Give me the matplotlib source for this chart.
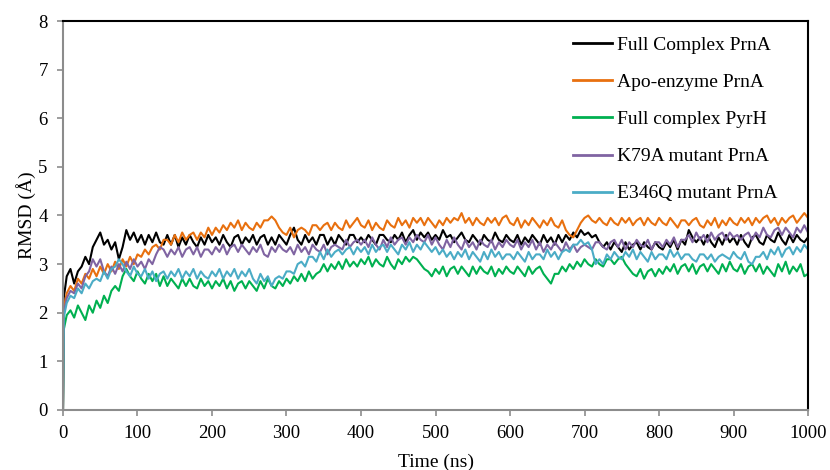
import matplotlib
matplotlib.use('Agg')
import matplotlib.pyplot as plt
import numpy as np

# time axis: t=0, t=1, then every 5 ns up to 1000
time_ns = np.concatenate(([0, 1], np.arange(5, 1001, 5)))

full_complex_prna = [0, 2.3,
    2.75, 2.9, 2.6, 2.85, 2.95, 3.15, 3.0, 3.35, 3.5, 3.65, 3.4, 3.5, 3.3, 3.45, 3.1, 3.35, 3.7, 3.5, 3.65, 3.45,
    3.6, 3.4, 3.6, 3.45, 3.65, 3.45, 3.4, 3.6, 3.4, 3.6, 3.35, 3.55, 3.4, 3.6, 3.45, 3.35, 3.55, 3.4, 3.6, 3.45,
    3.55, 3.4, 3.6, 3.45, 3.35, 3.55, 3.6, 3.4, 3.55, 3.45, 3.6, 3.4, 3.55, 3.6, 3.4, 3.55, 3.4, 3.6, 3.5, 3.4,
    3.6, 3.75, 3.5, 3.4, 3.6, 3.45, 3.55, 3.4, 3.6, 3.6, 3.4, 3.55, 3.4, 3.6, 3.5, 3.4, 3.6, 3.6, 3.45, 3.55,
    3.45, 3.6, 3.5, 3.4, 3.6, 3.6, 3.5, 3.45, 3.6, 3.5, 3.65, 3.45, 3.6, 3.7, 3.5, 3.65, 3.55, 3.65, 3.5, 3.6,
    3.5, 3.7, 3.55, 3.6, 3.45, 3.55, 3.65, 3.5, 3.45, 3.6, 3.5, 3.4, 3.6, 3.5, 3.45, 3.65, 3.5, 3.45, 3.6, 3.5,
    3.45, 3.6, 3.4, 3.55, 3.45, 3.6, 3.5, 3.4, 3.6, 3.45, 3.55, 3.4, 3.6, 3.45, 3.6, 3.5, 3.65, 3.55, 3.7, 3.6,
    3.65, 3.55, 3.6, 3.45, 3.35, 3.45, 3.3, 3.45, 3.35, 3.25, 3.45, 3.3, 3.4, 3.45, 3.3, 3.45, 3.35, 3.3, 3.45, 3.35,
    3.3, 3.45, 3.35, 3.5, 3.3, 3.5, 3.4, 3.7, 3.55, 3.45, 3.55, 3.4, 3.6, 3.45, 3.35, 3.55, 3.4, 3.6, 3.45, 3.55,
    3.4, 3.6, 3.45, 3.35, 3.55, 3.6, 3.45, 3.4, 3.6, 3.5, 3.45, 3.65, 3.5, 3.4, 3.6, 3.45, 3.6, 3.5, 3.45, 3.55]

apo_enzyme_prna = [0, 2.1,
    2.4, 2.55, 2.45, 2.7, 2.6, 2.8, 2.7, 2.9, 2.75, 2.95, 2.8, 3.0, 2.85, 3.05, 2.9, 3.1, 2.95, 3.15, 3.0, 3.2,
    3.15, 3.3, 3.2, 3.35, 3.4, 3.3, 3.5, 3.5, 3.4, 3.6, 3.45, 3.65, 3.5, 3.6, 3.65, 3.5, 3.65, 3.55, 3.75, 3.6,
    3.75, 3.65, 3.8, 3.7, 3.85, 3.75, 3.9, 3.7, 3.85, 3.75, 3.7, 3.85, 3.75, 3.9, 3.9, 3.98, 3.9, 3.75, 3.65, 3.6,
    3.75, 3.55, 3.7, 3.75, 3.7, 3.6, 3.8, 3.8, 3.7, 3.8, 3.85, 3.7, 3.85, 3.75, 3.7, 3.9, 3.75, 3.85, 3.95, 3.8,
    3.75, 3.9, 3.7, 3.85, 3.75, 3.7, 3.9, 3.8, 3.75, 3.95, 3.8, 3.9, 3.75, 3.95, 3.85, 3.95, 3.8, 3.95, 3.85, 3.75,
    3.9, 3.8, 3.95, 3.85, 3.95, 3.9, 4.05, 3.85, 3.95, 3.8, 3.95, 3.85, 3.8, 3.95, 3.85, 3.95, 3.8, 3.95, 4.0, 3.85,
    3.8, 3.95, 3.75, 3.9, 3.8, 3.95, 3.85, 3.75, 3.9, 3.8, 3.95, 3.8, 3.75, 3.9, 3.7, 3.6, 3.55, 3.7, 3.85, 3.95,
    4.0, 3.9, 3.85, 3.95, 3.85, 3.8, 3.95, 3.85, 3.8, 3.95, 3.85, 3.95, 3.8, 3.9, 3.95, 3.8, 3.95, 3.85, 3.8, 3.95,
    3.85, 3.8, 3.95, 3.85, 3.75, 3.9, 3.9, 3.8, 3.9, 3.95, 3.8, 3.75, 3.9, 3.8, 3.95, 3.75, 3.9, 3.8, 3.95, 3.85,
    3.8, 3.95, 3.85, 3.95, 3.8, 3.95, 3.85, 3.95, 4.0, 3.85, 3.95, 3.8, 3.95, 3.85, 3.95, 4.0, 3.85, 3.95, 4.05, 3.95]

full_complex_pyrh = [0, 1.65,
    1.95, 2.05, 1.9, 2.15, 2.0, 1.85, 2.15, 2.0, 2.25, 2.1, 2.35, 2.2, 2.45, 2.55, 2.45, 2.75, 2.9, 2.75, 2.65, 2.85,
    2.7, 2.6, 2.8, 2.65, 2.8, 2.55, 2.75, 2.55, 2.7, 2.6, 2.5, 2.7, 2.55, 2.7, 2.55, 2.5, 2.7, 2.55, 2.65, 2.5,
    2.65, 2.55, 2.7, 2.5, 2.65, 2.45, 2.6, 2.65, 2.5, 2.65, 2.55, 2.45, 2.65, 2.5, 2.7, 2.55, 2.5, 2.65, 2.55, 2.7,
    2.6, 2.75, 2.65, 2.8, 2.65, 2.85, 2.7, 2.8, 2.85, 3.0, 2.85, 3.0, 2.9, 3.05, 2.9, 3.1, 2.95, 3.05, 2.95, 3.1,
    3.0, 3.15, 2.95, 3.1, 3.0, 2.95, 3.15, 3.0, 2.9, 3.1, 3.0, 3.15, 3.05, 3.15, 3.1, 3.0, 2.9, 2.85, 2.75, 2.9,
    2.8, 2.95, 2.75, 2.9, 2.95, 2.8, 2.95, 2.85, 2.75, 2.95, 2.8, 2.95, 2.85, 2.8, 2.95, 2.75, 2.9, 2.8, 2.95, 2.85,
    2.8, 2.95, 2.85, 2.75, 2.95, 2.8, 2.9, 2.95, 2.8, 2.7, 2.6, 2.8, 2.8, 2.95, 2.85, 3.0, 2.9, 3.05, 2.95, 3.1,
    3.0, 2.95, 3.1, 3.0, 2.95, 3.1, 3.1, 3.0, 3.1, 3.15, 3.0, 2.9, 2.8, 2.75, 2.9, 2.7, 2.85, 2.9, 2.75, 2.9,
    2.8, 2.95, 2.85, 3.0, 2.8, 2.95, 3.0, 2.85, 3.0, 2.8, 2.95, 3.0, 2.85, 3.0, 2.9, 2.8, 3.0, 2.85, 3.05, 2.9,
    2.85, 3.0, 2.8, 2.95, 3.0, 2.85, 3.0, 2.8, 2.95, 2.85, 2.75, 3.0, 2.85, 3.05, 2.8, 2.95, 2.85, 3.0, 2.75, 2.8]

k79a_mutant_prna = [0, 2.0,
    2.3, 2.45, 2.4, 2.6, 2.5, 2.75, 2.85, 3.1, 2.95, 3.1, 2.85, 2.75, 2.95, 2.8, 3.0, 2.85, 3.05, 2.9, 3.1, 2.95,
    3.05, 2.9, 3.1, 3.0, 3.2, 3.35, 3.3, 3.15, 3.3, 3.2, 3.35, 3.15, 3.3, 3.35, 3.2, 3.35, 3.15, 3.3, 3.3, 3.2,
    3.35, 3.25, 3.4, 3.2, 3.35, 3.4, 3.25, 3.4, 3.3, 3.2, 3.35, 3.25, 3.4, 3.2, 3.15, 3.35, 3.25, 3.4, 3.3, 3.25,
    3.35, 3.2, 3.4, 3.25, 3.35, 3.2, 3.4, 3.3, 3.25, 3.4, 3.2, 3.35, 3.4, 3.35, 3.3, 3.5, 3.35, 3.45, 3.5, 3.4,
    3.5, 3.35, 3.55, 3.4, 3.3, 3.5, 3.35, 3.55, 3.4, 3.5, 3.55, 3.4, 3.55, 3.45, 3.6, 3.5, 3.45, 3.6, 3.4, 3.55,
    3.4, 3.3, 3.5, 3.35, 3.55, 3.4, 3.3, 3.5, 3.35, 3.45, 3.3, 3.5, 3.4, 3.35, 3.5, 3.3, 3.45, 3.35, 3.5, 3.4,
    3.35, 3.5, 3.3, 3.45, 3.35, 3.5, 3.3, 3.45, 3.25, 3.4, 3.3, 3.45, 3.35, 3.25, 3.45, 3.3, 3.4, 3.25, 3.35, 3.4,
    3.35, 3.3, 3.45, 3.45, 3.35, 3.3, 3.45, 3.5, 3.35, 3.5, 3.3, 3.45, 3.35, 3.5, 3.4, 3.35, 3.5, 3.3, 3.45, 3.45,
    3.35, 3.5, 3.4, 3.55, 3.35, 3.5, 3.5, 3.6, 3.45, 3.65, 3.5, 3.6, 3.45, 3.65, 3.5, 3.6, 3.65, 3.5, 3.65, 3.55,
    3.6, 3.5, 3.6, 3.65, 3.5, 3.65, 3.55, 3.75, 3.6, 3.55, 3.7, 3.75, 3.6, 3.75, 3.65, 3.55, 3.75, 3.65, 3.8, 3.65]

e346q_mutant_prna = [0, 1.9,
    2.2, 2.35, 2.3, 2.5, 2.4, 2.6, 2.5, 2.65, 2.7, 2.65, 2.85, 2.7, 2.9, 2.95, 3.1, 3.0, 2.85, 2.75, 2.95, 2.8,
    2.75, 2.9, 2.7, 2.85, 2.65, 2.8, 2.85, 2.7, 2.85, 2.75, 2.9, 2.7, 2.85, 2.75, 2.9, 2.7, 2.85, 2.75, 2.7, 2.85,
    2.75, 2.9, 2.7, 2.85, 2.75, 2.9, 2.7, 2.85, 2.75, 2.9, 2.7, 2.6, 2.8, 2.65, 2.75, 2.55, 2.7, 2.75, 2.7, 2.85,
    2.85, 2.8, 3.0, 3.05, 2.95, 3.15, 3.15, 3.05, 3.25, 3.1, 3.3, 3.15, 3.25, 3.3, 3.2, 3.3, 3.35, 3.2, 3.35, 3.25,
    3.35, 3.2, 3.4, 3.25, 3.35, 3.4, 3.25, 3.4, 3.3, 3.2, 3.4, 3.3, 3.45, 3.25, 3.4, 3.3, 3.45, 3.35, 3.25, 3.35,
    3.2, 3.3, 3.15, 3.25, 3.1, 3.25, 3.15, 3.3, 3.1, 3.25, 3.15, 3.05, 3.25, 3.1, 3.3, 3.15, 3.25, 3.1, 3.2, 3.2,
    3.1, 3.25, 3.15, 3.05, 3.25, 3.1, 3.2, 3.2, 3.1, 3.3, 3.15, 3.25, 3.1, 3.25, 3.3, 3.25, 3.4, 3.4, 3.5, 3.4,
    3.45, 3.3, 3.0, 3.1, 3.0, 3.2, 3.1, 3.25, 3.15, 3.1, 3.25, 3.15, 3.3, 3.1, 3.25, 3.15, 3.05, 3.25, 3.1, 3.2,
    3.2, 3.1, 3.3, 3.15, 3.25, 3.1, 3.2, 3.2, 3.1, 3.05, 3.2, 3.2, 3.1, 3.2, 3.05, 3.15, 3.2, 3.15, 3.1, 3.25,
    3.15, 3.1, 3.25, 3.05, 3.0, 3.15, 3.15, 3.25, 3.1, 3.3, 3.2, 3.35, 3.15, 3.3, 3.35, 3.2, 3.35, 3.25, 3.4, 3.3]

labels = ['Full Complex PrnA', 'Apo-enzyme PrnA', 'Full complex PyrH',
          'K79A mutant PrnA', 'E346Q mutant PrnA']
colors = ['#000000', '#E8700F', '#00B050', '#8064A2', '#4BACC6']
series = [full_complex_prna, apo_enzyme_prna, full_complex_pyrh,
          k79a_mutant_prna, e346q_mutant_prna]

plt.rcParams['font.family'] = ['Liberation Serif', 'DejaVu Serif']

fig = plt.figure(figsize=(8.3, 4.7), dpi=100)
ax = fig.add_axes([0.0759, 0.1277, 0.8976, 0.8276])

for vals, col, lab in zip(series, colors, labels):
    ax.plot(time_ns, vals, color=col, linewidth=1.5, label=lab)

ax.set_xlim(0, 1000)
ax.set_ylim(0, 8)
ax.set_xticks(range(0, 1001, 100))
ax.set_yticks(range(0, 9))

for side in ['left', 'bottom']:
    ax.spines[side].set_color('#8c8c8c')
    ax.spines[side].set_linewidth(1.5)
for side in ['top', 'right']:
    ax.spines[side].set_color('#000000')
    ax.spines[side].set_linewidth(1.5)

ax.tick_params(axis='both', direction='out', length=4, width=1.2, color='#8c8c8c',
               labelsize=13.5)
ax.tick_params(axis='y', pad=7)
ax.tick_params(axis='x', pad=7)

ax.set_xlabel('Time (ns)', fontsize=14, labelpad=8)
ax.set_ylabel('RMSD (Å)', fontsize=14, labelpad=2)

leg = ax.legend(loc='upper left', bbox_to_anchor=(0.685, 0.96), frameon=False,
                fontsize=14, borderpad=0, borderaxespad=0, handlelength=2.0,
                handletextpad=0.25, labelspacing=1.0)
for line in leg.get_lines():
    line.set_linewidth(2)

fig.savefig('out.png', dpi=100)
